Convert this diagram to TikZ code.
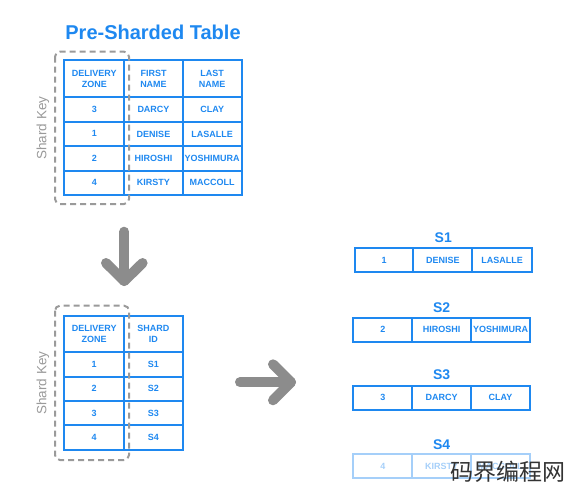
\documentclass[tikz,border=0pt]{standalone}
\usepackage{fontspec}
\setmainfont{Liberation Sans}
\newfontfamily\cjkfont{Noto Sans CJK SC}
\usetikzlibrary{positioning}
\definecolor{myblue}{HTML}{1E88F0}
\definecolor{mygray}{HTML}{8C8C8C}
\definecolor{keygray}{HTML}{9A9A9A}
\tikzset{
	cellnode/.style={
			shape=rectangle,
			draw=myblue,
			line width=2pt,
			text=myblue,
			font=\fontsize{9}{11}\selectfont\bfseries,
			align=center,
			inner sep=0pt
		},
	fadednode/.style={
			cellnode,
			draw=myblue!40,
			text=myblue!40
		},
	titlenode/.style={
			text=myblue,
			font=\fontsize{14}{16}\selectfont\bfseries
		},
	keybox/.style={
			draw=keygray,
			line width=2pt,
			dash pattern=on 6pt off 4pt,
			rounded corners=5pt
		},
	bigarrow/.style={
			draw=mygray,
			line width=10pt,
			line cap=round,
			line join=round
		}
}

\begin{document}
\begin{tikzpicture}[x=1pt, y=-1pt]
\useasboundingbox (0,0) rectangle (571,490);

% pre-sharded table
\node[text=myblue, font=\fontsize{20}{22}\selectfont\bfseries] (title) at (153,32.7) {Pre-Sharded Table};

\begin{scope}[every node/.style={cellnode, minimum height=24.4pt}]
\node[minimum width=60pt, minimum height=37.3pt] (a11) at (94.3,78.7) {DELIVERY\\ZONE};
\node[minimum width=58.4pt, minimum height=37.3pt] (a12) at (153.5,78.7) {FIRST\\NAME};
\node[minimum width=59pt, minimum height=37.3pt] (a13) at (212.2,78.7) {LAST\\NAME};

\node[minimum width=60pt] (a21) at (94.3,109.5) {3};
\node[minimum width=58.4pt] (a22) at (153.5,109.5) {DARCY};
\node[minimum width=59pt] (a23) at (212.2,109.5) {CLAY};

\node[minimum width=60pt] (a31) at (94.3,133.9) {1};
\node[minimum width=58.4pt] (a32) at (153.5,133.9) {DENISE};
\node[minimum width=59pt] (a33) at (212.2,133.9) {LASALLE};

\node[minimum width=60pt] (a41) at (94.3,158.3) {2};
\node[minimum width=58.4pt] (a42) at (153.5,158.3) {HIROSHI};
\node[minimum width=59pt] (a43) at (212.2,158.3) {YOSHIMURA};

\node[minimum width=60pt] (a51) at (94.3,182.8) {4};
\node[minimum width=58.4pt] (a52) at (153.5,182.8) {KIRSTY};
\node[minimum width=59pt] (a53) at (212.2,182.8) {MACCOLL};
\end{scope}

\draw[keybox] (55,51.7) rectangle (129,204);
\node[rotate=90, text=keygray, font=\fontsize{13.5}{15}\selectfont] (key1) at (43,128) {Shard Key};

% arrows
\coordinate (d1) at (124.3,231.7);
\coordinate (d2) at (124.3,281);
\coordinate (dl) at (106,263);
\coordinate (dr) at (142.6,263);
\draw[bigarrow] (d1) -- (d2);
\draw[bigarrow] (dl) -- (d2) -- (dr);

\coordinate (r1) at (240,382.3);
\coordinate (r2) at (291,382.3);
\coordinate (ru) at (273,364.3);
\coordinate (rd) at (273,400.3);
\draw[bigarrow] (r1) -- (r2);
\draw[bigarrow] (ru) -- (r2) -- (rd);

% lookup table
\begin{scope}[every node/.style={cellnode, minimum height=24.3pt}]
\node[minimum width=59.7pt, minimum height=36.6pt] (b11) at (94.2,334) {DELIVERY\\ZONE};
\node[minimum width=58.7pt, minimum height=36.6pt] (b12) at (153.3,334) {SHARD\\ID};

\node[minimum width=59.7pt] (b21) at (94.2,364.5) {1};
\node[minimum width=58.7pt] (b22) at (153.3,364.5) {S1};

\node[minimum width=59.7pt] (b31) at (94.2,388.8) {2};
\node[minimum width=58.7pt] (b32) at (153.3,388.8) {S2};

\node[minimum width=59.7pt] (b41) at (94.2,413.1) {3};
\node[minimum width=58.7pt] (b42) at (153.3,413.1) {S3};

\node[minimum width=59.7pt] (b51) at (94.2,437.4) {4};
\node[minimum width=58.7pt] (b52) at (153.3,437.4) {S4};
\end{scope}

\draw[keybox] (55,305.7) rectangle (129,460);
\node[rotate=90, text=keygray, font=\fontsize{13.5}{15}\selectfont] (key2) at (43,383) {Shard Key};

% shards
\node[titlenode] (s1) at (443.3,237.3) {S1};
\begin{scope}[every node/.style={cellnode, minimum height=24.6pt}]
\node[minimum width=58.3pt] (c11) at (384.2,260) {1};
\node[minimum width=59pt] (c12) at (442.8,260) {DENISE};
\node[minimum width=59.4pt] (c13) at (502,260) {LASALLE};
\end{scope}

\node[titlenode] (s2) at (441.7,307.3) {S2};
\begin{scope}[every node/.style={cellnode, minimum height=24pt}]
\node[minimum width=59pt] (c21) at (382.8,329.7) {2};
\node[minimum width=58.7pt] (c22) at (441.7,329.7) {HIROSHI};
\node[minimum width=59pt] (c23) at (500.5,329.7) {YOSHIMURA};
\end{scope}

\node[titlenode] (s3) at (441.7,375) {S3};
\begin{scope}[every node/.style={cellnode, minimum height=24pt}]
\node[minimum width=59pt] (c31) at (382.8,397.5) {3};
\node[minimum width=58.7pt] (c32) at (441.7,397.5) {DARCY};
\node[minimum width=59pt] (c33) at (500.5,397.5) {CLAY};
\end{scope}

\node[titlenode] (s4) at (441.7,444.3) {S4};
\begin{scope}[every node/.style={fadednode, minimum height=24pt}]
\node[minimum width=59pt] (c41) at (382.8,466.3) {4};
\node[minimum width=58.7pt] (c42) at (441.7,466.3) {KIRSTY};
\node[minimum width=59pt] (c43) at (500.5,466.3) {MACCOLL};
\end{scope}

\node[text=black!80, font=\cjkfont\fontsize{23}{25}\selectfont] (mark) at (508,471.5) {码界编程网};
\end{tikzpicture}
\end{document}
